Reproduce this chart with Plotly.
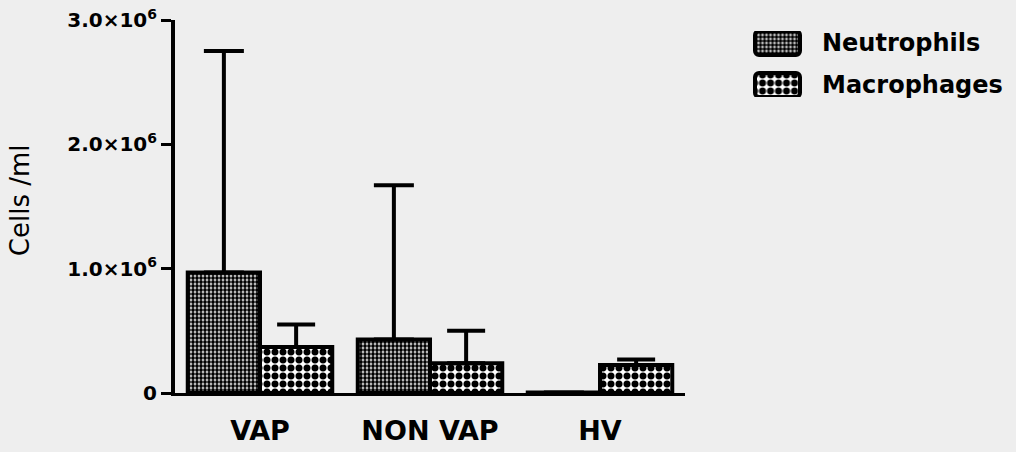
import plotly.graph_objects as go

categories = ["VAP", "NON VAP", "HV"]
neutrophils = [0.97e6, 0.43e6, 0.005e6]
neutrophils_sd = [1.78e6, 1.24e6, 0.0]
macrophages = [0.37e6, 0.24e6, 0.225e6]
macrophages_sd = [0.18e6, 0.26e6, 0.045e6]
series_names = ["Neutrophils", "Macrophages"]
ytick_vals = [0, 1e6, 2e6, 3e6]
ytick_text = ["0", "1.0×10<sup>6</sup>", "2.0×10<sup>6</sup>", "3.0×10<sup>6</sup>"]

FONT = "DejaVu Sans"
BG = "#eeeeee"

neut_pattern = dict(shape=".", bgcolor="white", fgcolor="black", fgopacity=1, size=4, solidity=0.7)
mac_pattern = dict(shape=".", bgcolor="white", fgcolor="black", fgopacity=1, size=8, solidity=0.6)

fig = go.Figure()
fig.add_trace(go.Bar(
    name=series_names[0], x=categories, y=neutrophils,
    marker=dict(color="black", pattern=neut_pattern, line=dict(color="black", width=4)),
    error_y=dict(type="data", symmetric=False, array=neutrophils_sd,
                 arrayminus=[0] * len(neutrophils_sd), color="black", thickness=4, width=20),
    showlegend=False,
))
fig.add_trace(go.Bar(
    name=series_names[1], x=categories, y=macrophages,
    marker=dict(color="white", pattern=mac_pattern, line=dict(color="black", width=4)),
    error_y=dict(type="data", symmetric=False, array=macrophages_sd,
                 arrayminus=[0] * len(macrophages_sd), color="black", thickness=4, width=19),
    showlegend=False,
))

# legend swatches drawn on a small helper axis
fig.add_trace(go.Bar(
    x=[1], y=[1], base=0, orientation="h", width=0.571, xaxis="x2", yaxis="y2",
    marker=dict(color="black", pattern=neut_pattern, line=dict(color="black", width=4), cornerradius=4),
    showlegend=False, hoverinfo="skip", cliponaxis=False,
))
fig.add_trace(go.Bar(
    x=[1], y=[0], base=0, orientation="h", width=0.571, xaxis="x2", yaxis="y2",
    marker=dict(color="white", pattern=mac_pattern, line=dict(color="black", width=4), cornerradius=4),
    showlegend=False, hoverinfo="skip", cliponaxis=False,
))

fig.update_layout(
    width=1016, height=452,
    margin=dict(l=175, r=16, t=20, b=59, autoexpand=False),
    paper_bgcolor=BG, plot_bgcolor=BG,
    barmode="group", bargap=0.15, bargroupgap=0,
    font=dict(family=FONT, color="black"),
    xaxis=dict(domain=[0, 0.6182], range=[-0.5, 2.5], showline=True, linewidth=3, linecolor="black",
               ticks="", showgrid=False, zeroline=False, ticklabelstandoff=12, automargin=False,
               tickfont=dict(family=FONT, size=27, weight="bold")),
    yaxis=dict(range=[0, 3e6], showline=True, linewidth=4, linecolor="black",
               ticks="outside", ticklen=10, tickwidth=3, tickcolor="black", automargin=False,
               tickvals=ytick_vals, ticktext=ytick_text, showgrid=False, zeroline=False,
               tickfont=dict(family=FONT, size=20, weight="bold")),
    xaxis2=dict(domain=[0.6976, 0.7630], range=[-0.1, 1.1], anchor="y2", visible=False, automargin=False),
    yaxis2=dict(domain=[0.7936, 0.9705], range=[-0.286, 1.286], anchor="x2", visible=False, automargin=False),
    annotations=[
        dict(text="Cells /ml", textangle=-90, x=-0.1879, y=0.517, xref="paper", yref="paper",
             showarrow=False, font=dict(family=FONT, size=26), xanchor="center", yanchor="middle"),
        dict(text=series_names[0], x=0.7818, y=0.938, xref="paper", yref="paper", showarrow=False,
             xanchor="left", yanchor="middle", font=dict(family=FONT, size=24, weight="bold")),
        dict(text=series_names[1], x=0.7818, y=0.826, xref="paper", yref="paper", showarrow=False,
             xanchor="left", yanchor="middle", font=dict(family=FONT, size=24, weight="bold")),
    ],
)

fig.write_html("out.html", config={"displayModeBar": False},
               post_script="document.body.style.margin='0';document.body.style.overflow='hidden';")
